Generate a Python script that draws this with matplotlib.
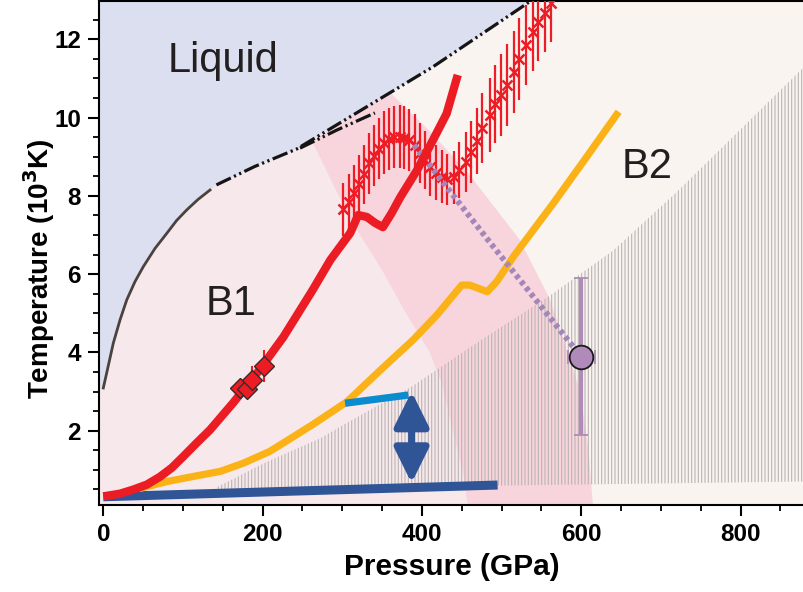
import numpy as np
import matplotlib
matplotlib.use("Agg")
import matplotlib.pyplot as plt

plt.rcParams["font.family"] = ["Liberation Sans", "DejaVu Sans"]
plt.rcParams["hatch.linewidth"] = 0.8

# --- phase boundaries (P in GPa, T in 10^3 K) ---
melt_solid_p = [0, 4.2, 12.6, 21, 29.4, 39.8, 50.2, 65, 79.6, 92, 104.7, 119, 134]
melt_solid_t = [3.09, 3.47, 4.24, 4.83, 5.34, 5.81, 6.19, 6.66, 7.04, 7.37, 7.64, 7.91, 8.15]
melt_dash_p = [142, 190, 243, 331, 414, 498, 560]
melt_dash_t = [8.28, 8.75, 9.2, 10.28, 11.30, 12.45, 13.3]
melt_low_p = [247, 293, 341]
melt_low_t = [9.22, 9.68, 10.12]

band_left_p = [262, 310, 350, 380, 410, 425, 440, 452, 458]
band_left_t = [9.4, 7.4, 6.1, 5.0, 4.0, 3.2, 1.9, 0.9, 0.0]
band_right_p = [615, 609, 598, 561, 523, 460, 410, 360]
band_right_t = [0.0, 1.51, 3.04, 5.34, 6.87, 8.53, 9.65, 10.64]
band_top_p = [331]
band_top_t = [10.28]

hatch_top_p = [142, 205, 272, 306, 389, 473, 557, 640, 720, 800, 880]
hatch_top_t = [0.55, 1.2, 1.8, 2.2, 3.15, 4.3, 5.4, 6.6, 8.1, 9.7, 11.3]
hatch_bot_p = [880, 142]
hatch_bot_t = [0.70, 0.50]

# --- curves ---
red_p = [0, 21, 37, 54.5, 71, 86, 100, 117, 134, 163, 193, 226, 263, 285, 310,
         320, 331, 341, 351, 362, 373, 394, 414, 431, 445]
red_t = [0.32, 0.39, 0.49, 0.62, 0.82, 1.05, 1.33, 1.68, 2.02, 2.71, 3.47, 4.39,
         5.6, 6.36, 7.05, 7.51, 7.46, 7.31, 7.2, 7.56, 7.97, 8.66, 9.43, 10.1, 11.09]

yel_p = [45, 80, 113, 147, 176, 209, 239, 264, 306, 347, 389, 419, 450, 460,
         473, 482, 494, 515, 565, 607, 647]
yel_t = [0.52, 0.70, 0.83, 0.96, 1.17, 1.47, 1.85, 2.17, 2.74, 3.53, 4.32,
         4.96, 5.72, 5.72, 5.62, 5.55, 5.81, 6.45, 7.81, 9.0, 10.15]

blue_p = [0, 495]
blue_t = [0.31, 0.61]
cyan_p = [303.5, 383]
cyan_t = [2.70, 2.91]
arrow_p = 387
arrow_t = (0.66, 3.0)

dia_p = [172, 181, 187, 202]
dia_t = [3.09, 3.07, 3.3, 3.65]
dia_err = [0, 0, 0.34, 0.4]

cross_p = [301, 309, 315, 321, 327, 334, 340, 346, 353, 359,
           365, 372, 378, 384, 391, 397, 404, 410, 418, 425,
           432, 440, 447, 455, 462, 469, 476, 485, 492, 499,
           507, 515, 522, 531, 539, 546, 555, 562]
cross_t = [7.66, 7.85, 8.07, 8.30, 8.55, 8.83, 9.02, 9.21, 9.36, 9.45,
           9.50, 9.51, 9.49, 9.43, 9.30, 9.10, 8.92, 8.73, 8.59, 8.49,
           8.42, 8.47, 8.66, 8.87, 9.12, 9.40, 9.73, 10.07, 10.34, 10.58,
           10.83, 11.17, 11.49, 11.85, 12.18, 12.44, 12.68, 12.93]
cross_err = [0.68, 0.70, 0.72, 0.74, 0.75, 0.77, 0.78, 0.79, 0.80, 0.80,
             0.80, 0.80, 0.80, 0.79, 0.78, 0.77, 0.75, 0.73, 0.70, 0.68,
             0.66, 0.68, 0.72, 0.76, 0.80, 0.85, 0.90, 0.95, 1.00, 1.05,
             1.05, 1.05, 1.05, 1.02, 1.00, 1.00, 1.00, 1.00]

purple_p, purple_t = 600, 3.89
purple_xerr, purple_yerr = 17, 2.0
pdot_p = [390, 480, 600]
pdot_t = [9.3, 6.95, 3.89]

C_LIQ = "#dcdff0"
C_B1 = "#f7e8ec"
C_B2 = "#f9f4f0"
C_BAND = "#f8d5dd"

fig = plt.figure(figsize=(8.04, 5.92), dpi=100)
ax = fig.add_axes([99 / 804, 87 / 592, 1 - 99 / 804, 504 / 592])
ax.set_facecolor(C_B2)

# B1 field: left of the transition band, below melting
b1_p = [-10, -10] + melt_solid_p + melt_dash_p[:4] + band_right_p[::-1]
b1_t = [0, 3.09] + melt_solid_t + melt_dash_t[:4] + band_right_t[::-1]
ax.fill(b1_p, b1_t, color=C_B1, lw=0, zorder=0)

# transition band
bd_p = band_left_p + band_right_p + band_top_p
bd_t = band_left_t + band_right_t + band_top_t
ax.fill(bd_p, bd_t, color=C_BAND, lw=0, zorder=0.5)

# liquid
lq_p = [-10, -10, 0] + melt_solid_p + melt_dash_p + [melt_dash_p[-1]]
lq_t = [14, 3.09, 3.09] + melt_solid_t + melt_dash_t + [14]
ax.fill(lq_p, lq_t, color=C_LIQ, lw=0, zorder=0.6)

# hatched region
ax.fill(hatch_top_p + hatch_bot_p, hatch_top_t + hatch_bot_t,
        facecolor="none", edgecolor="#bab5b3", hatch="|||||", lw=0, zorder=1)

# melting lines
ax.plot(melt_solid_p, melt_solid_t, color="#4b423d", lw=2.0, zorder=3)
dd = (0, (5, 1.1, 0.7, 1.1, 0.7, 1.1))
ax.plot(melt_dash_p, melt_dash_t, color="#151515", lw=2.3, ls=dd, zorder=3)
ax.plot(melt_low_p, melt_low_t, color="#151515", lw=2.3, ls=dd, zorder=3)

# curves
ax.plot(blue_p, blue_t, color="#2f5597", lw=6.5, solid_capstyle="butt", zorder=4)
ax.plot(yel_p, yel_t, color="#fbb217", lw=5.2, solid_capstyle="butt",
        solid_joinstyle="round", zorder=4)
ax.plot(cyan_p, cyan_t, color="#0a8ccf", lw=5.2, solid_capstyle="butt", zorder=5)

ax.errorbar(cross_p, cross_t, yerr=cross_err, fmt="x", color="#ee1c25",
            ms=7, mew=1.8, elinewidth=1.6, capsize=0, zorder=5)
ax.plot(pdot_p, pdot_t, color="#a487ba", lw=4.2, ls=(0, (0.75, 0.6)), zorder=6)
ax.plot(red_p, red_t, color="#ec1c24", lw=6.0, solid_capstyle="butt",
        solid_joinstyle="round", zorder=7)

ax.errorbar(dia_p, dia_t, yerr=dia_err, fmt="D", color="#ec1c24", ms=10,
            mec="#3a2a2a", mew=1.0, elinewidth=1.5, capsize=0, zorder=8)

ax.errorbar([purple_p], [purple_t], xerr=[purple_xerr], yerr=[purple_yerr],
            fmt="o", color="#b08bb9", ms=17, mec="#1a1a1a", mew=1.3,
            elinewidth=3, capsize=5, capthick=3, zorder=8)

ax.annotate("", xy=(arrow_p, arrow_t[1]), xytext=(arrow_p, arrow_t[0]),
            arrowprops=dict(arrowstyle="<|-|>,head_length=0.85,head_width=0.42",
                            mutation_scale=25, lw=5, color="#2f5597",
                            shrinkA=0, shrinkB=0), zorder=6)

# labels
ax.text(150, 11.17, "Liquid", fontsize=30, ha="center", va="baseline", color="#231f20", zorder=10)
ax.text(161, 4.96, "B1", fontsize=30, ha="center", va="baseline", color="#231f20", zorder=10)
ax.text(683, 8.45, "B2", fontsize=30, ha="center", va="baseline", color="#231f20", zorder=10)

ax.set_xlim(-5.4, 879.7)
ax.set_ylim(0.10, 12.98)
ax.set_xticks([0, 200, 400, 600, 800])
ax.set_xticks(np.arange(50, 880, 50), minor=True)
ax.set_yticks([2, 4, 6, 8, 10, 12])
ax.set_yticks(np.arange(0.5, 13, 0.5), minor=True)
ax.tick_params(which="major", direction="out", length=8, width=1.5,
               labelsize=17.5, pad=5)
ax.tick_params(which="minor", direction="out", length=4.5, width=1.3)
for lab in ax.get_xticklabels() + ax.get_yticklabels():
    lab.set_fontweight("bold")
for s in ("left", "bottom", "top"):
    ax.spines[s].set_linewidth(1.5)
ax.spines["right"].set_visible(False)

ax.set_xlabel("Pressure (GPa)", fontsize=21.5, fontweight="bold")
ax.set_ylabel("Temperature (10$^\\mathbf{3}$K)", fontsize=20, fontweight="bold")
ax.xaxis.set_label_coords(0.5, -0.095)
ax.yaxis.set_label_coords(-0.06, 0.468)

fig.savefig("out.png", dpi=100)
